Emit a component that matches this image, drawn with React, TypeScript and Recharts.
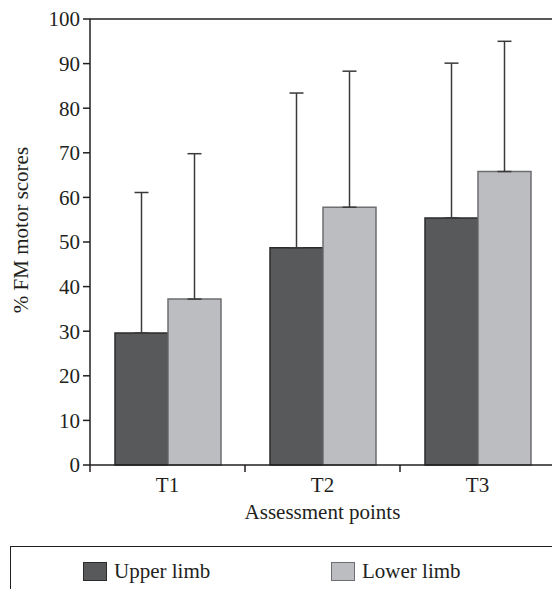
import { Bar, BarChart, ErrorBar, Label, ReferenceLine, XAxis, YAxis } from "recharts";

const categories = ["T1", "T2", "T3"];
const upperLimb = [29.6, 48.7, 55.4];
const lowerLimb = [37.2, 57.8, 65.8];
const upperSD = [31.5, 34.7, 34.7];
const lowerSD = [32.6, 30.5, 29.2];
const yTicks = [0, 10, 20, 30, 40, 50, 60, 70, 80, 90, 100];

const series = [
  { key: "upper", name: "Upper limb", fill: "#58595b", stroke: "#2b2b2c" },
  { key: "lower", name: "Lower limb", fill: "#bcbdc0", stroke: "#6d6e71" },
];

const font = "Liberation Serif, Times New Roman, serif";
const ink = "#231f20";
const X_TICK_SIZE = 6;
const X_TICK_MARGIN = 6;

const data = categories.map((name, i) => ({
  name,
  upper: upperLimb[i],
  lower: lowerLimb[i],
  upperErr: [0, upperSD[i]],
  lowerErr: [0, lowerSD[i]],
}));

function YTitle(props: any) {
  const vb = props.viewBox || { x: 0, y: 0, height: 0 };
  const cx = vb.x + 21;
  const cy = vb.y + vb.height / 2 - 12;
  return (
    <text
      x={cx}
      y={cy}
      transform={`rotate(-90, ${cx}, ${cy})`}
      textAnchor="middle"
      dominantBaseline="central"
      style={{ fontFamily: font }}
      fontSize={21}
      fill={ink}
    >
      % FM motor scores
    </text>
  );
}

// category label in the middle, tick marks on the group boundaries
function CategoryTick(props: any) {
  const { x, y, payload, index, visibleTicksCount } = props;
  const half = payload?.offset ?? 0;
  const axisY = y - X_TICK_SIZE - X_TICK_MARGIN;
  const marks = [x - half];
  if (index === visibleTicksCount - 1) marks.push(x + half);
  return (
    <g>
      {marks.map((mx, i) => (
        <line key={i} x1={mx} x2={mx} y1={axisY} y2={axisY + 7} stroke={ink} strokeWidth={1.5} />
      ))}
      <text x={x} y={y} dy="0.71em" textAnchor="middle" fontSize={21} fill={ink} style={{ fontFamily: font }}>
        {payload.value}
      </text>
    </g>
  );
}

function LegendBox() {
  return (
    <div
      style={{
        position: "absolute",
        left: 10,
        top: 546,
        width: 600,
        height: 80,
        borderTop: `1.5px solid ${ink}`,
        borderLeft: `1.5px solid ${ink}`,
        fontFamily: font,
        fontSize: 21,
        color: ink,
      }}
    >
      {series.map((s, i) => (
        <div
          key={s.key}
          style={{
            position: "absolute",
            left: 72 + i * 248,
            top: 12,
            display: "flex",
            alignItems: "center",
            height: 24,
          }}
        >
          <span
            style={{
              display: "inline-block",
              width: 24,
              height: 19,
              background: s.fill,
              border: `1.5px solid ${s.stroke}`,
              boxSizing: "border-box",
              marginRight: 7,
            }}
          />
          <span>{s.name}</span>
        </div>
      ))}
    </div>
  );
}

export default function App() {
  return (
    <div
      style={{
        position: "absolute",
        left: 0,
        top: 0,
        width: 552,
        height: 589,
        overflow: "hidden",
        background: "#fff",
        fontFamily: font,
      }}
    >
      <BarChart
        width={560}
        height={589}
        data={data}
        margin={{ top: 19, right: 5, left: 0, bottom: 123 }}
        barCategoryGap={25}
        barGap={0}
        style={{ fontFamily: font }}
      >
        <XAxis
          dataKey="name"
          height={1}
          interval={0}
          tickLine={false}
          tickSize={X_TICK_SIZE}
          tickMargin={X_TICK_MARGIN}
          axisLine={{ stroke: ink, strokeWidth: 1.5 }}
          tick={<CategoryTick />}
        >
          <Label
            value="Assessment points"
            position="bottom"
            offset={38}
            fontSize={21}
            fill={ink}
          />
        </XAxis>
        <YAxis
          domain={[0, 100]}
          ticks={yTicks}
          width={90}
          interval={0}
          tickSize={7}
          tickMargin={3}
          axisLine={{ stroke: ink, strokeWidth: 1.5 }}
          tickLine={{ stroke: ink, strokeWidth: 1.5 }}
          tick={{ fontSize: 21, fill: ink }}
        >
          <Label content={<YTitle />} />
        </YAxis>
        <ReferenceLine y={100} stroke={ink} strokeWidth={1.5} />
        {series.map((s) => (
          <Bar
            key={s.key}
            dataKey={s.key}
            name={s.name}
            fill={s.fill}
            stroke={s.stroke}
            strokeWidth={1.5}
            isAnimationActive={false}
          >
            <ErrorBar
              dataKey={`${s.key}Err`}
              direction="y"
              width={7}
              stroke="#3a3a3a"
              strokeWidth={1.5}
            />
          </Bar>
        ))}
      </BarChart>
      <LegendBox />
    </div>
  );
}
